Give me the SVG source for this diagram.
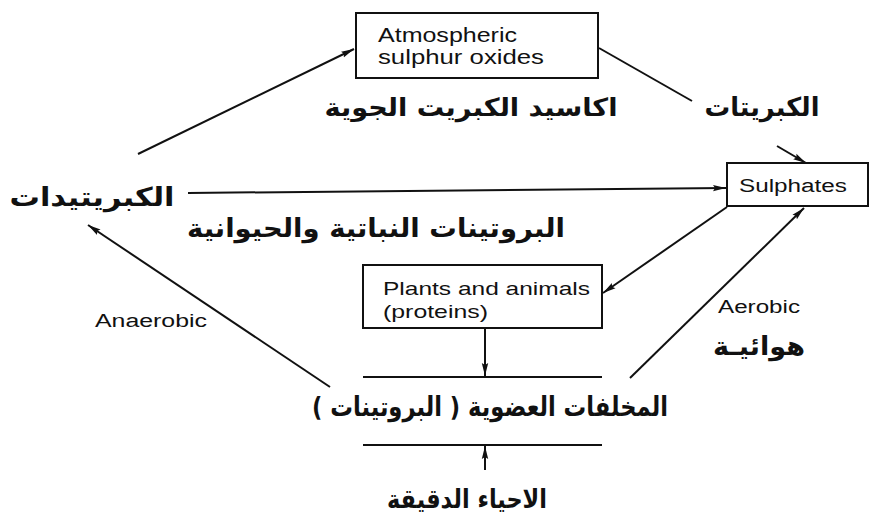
<svg xmlns="http://www.w3.org/2000/svg" width="871" height="525" viewBox="0 0 871 525">
<style>
.box{fill:#fff;stroke:#111;stroke-width:2}
.ln{stroke:#111;stroke-width:2;fill:none}
.en{font-family:"Liberation Sans","DejaVu Sans",sans-serif;fill:#111}
.ar{font-family:"DejaVu Sans",sans-serif;font-weight:bold;fill:#111}
.rule{stroke:#111;stroke-width:2.2}
</style>
<defs>
<marker id="ah" markerUnits="userSpaceOnUse" markerWidth="14" markerHeight="8" refX="13" refY="4" orient="auto">
<path d="M0,0.8 L13,4 L0,7.2 L2,4 z" fill="#111"/>
</marker>
</defs>
<rect width="871" height="525" fill="#fff"/>
<g id="connectors">
<line class="ln" x1="138" y1="154" x2="354" y2="49" marker-end="url(#ah)"/>
<line class="ln" x1="599" y1="48" x2="692" y2="101"/>
<line class="ln" x1="777" y1="146" x2="806" y2="163" marker-end="url(#ah)"/>
<line class="ln" x1="188" y1="193" x2="726" y2="188" marker-end="url(#ah)"/>
<line class="ln" x1="727" y1="207" x2="603" y2="293" marker-end="url(#ah)"/>
<line class="ln" x1="630" y1="378" x2="804" y2="208" marker-end="url(#ah)"/>
<line class="ln" x1="330" y1="387" x2="88" y2="225" marker-end="url(#ah)"/>
<line class="ln" x1="485" y1="329" x2="485" y2="376" marker-end="url(#ah)"/>
<line class="ln" x1="485" y1="470" x2="485" y2="446" marker-end="url(#ah)"/>
</g>
<g id="atmospheric">
<rect class="box" x="356" y="13" width="242" height="65"/>
<text class="en" x="378" y="42" font-size="20" textLength="139" lengthAdjust="spacingAndGlyphs">Atmospheric</text>
<text class="en" x="378" y="64" font-size="20" textLength="166" lengthAdjust="spacingAndGlyphs">sulphur oxides</text>
</g>
<g id="atmospheric-ar">
<text class="ar" x="471" y="116" font-size="25" text-anchor="middle" direction="rtl" textLength="293" lengthAdjust="spacingAndGlyphs">اكاسيد الكبريت الجوية</text>
</g>
<g id="sulphates-ar">
<text class="ar" x="762" y="116" font-size="26" text-anchor="middle" direction="rtl" textLength="115" lengthAdjust="spacingAndGlyphs">الكبريتات</text>
</g>
<g id="sulphates">
<rect class="box" x="727" y="163" width="141" height="43"/>
<text class="en" x="739" y="192" font-size="18" textLength="108" lengthAdjust="spacingAndGlyphs">Sulphates</text>
</g>
<g id="sulphides">
<text class="ar" x="92" y="206" font-size="26" text-anchor="middle" direction="rtl" textLength="165" lengthAdjust="spacingAndGlyphs">الكبريتيدات</text>
</g>
<g id="proteins-ar">
<text class="ar" x="376" y="237" font-size="26" text-anchor="middle" direction="rtl" textLength="378" lengthAdjust="spacingAndGlyphs">البروتينات النباتية والحيوانية</text>
</g>
<g id="plants">
<rect class="box" x="363" y="265" width="239" height="63"/>
<text class="en" x="383" y="295" font-size="19" textLength="207" lengthAdjust="spacingAndGlyphs">Plants and animals</text>
<text class="en" x="383" y="318" font-size="19" textLength="105" lengthAdjust="spacingAndGlyphs">(proteins)</text>
</g>
<g id="anaerobic">
<text class="en" x="95" y="327" font-size="18" textLength="112" lengthAdjust="spacingAndGlyphs">Anaerobic</text>
</g>
<g id="aerobic">
<text class="en" x="718" y="313" font-size="18" textLength="82" lengthAdjust="spacingAndGlyphs">Aerobic</text>
<text class="ar" x="759" y="355" font-size="26" text-anchor="middle" direction="rtl" textLength="92" lengthAdjust="spacingAndGlyphs">هوائيـة</text>
</g>
<g id="organic-residues">
<line class="rule" x1="363" y1="377" x2="602" y2="377"/>
<line class="rule" x1="363" y1="445" x2="602" y2="445"/>
<text class="ar" x="490" y="416" font-size="27" text-anchor="middle" direction="rtl" textLength="356" lengthAdjust="spacingAndGlyphs">المخلفات العضوية ( البروتينات )</text>
</g>
<g id="microorganisms">
<text class="ar" x="467" y="508" font-size="26" text-anchor="middle" direction="rtl" textLength="160" lengthAdjust="spacingAndGlyphs">الاحياء الدقيقة</text>
</g>
</svg>
